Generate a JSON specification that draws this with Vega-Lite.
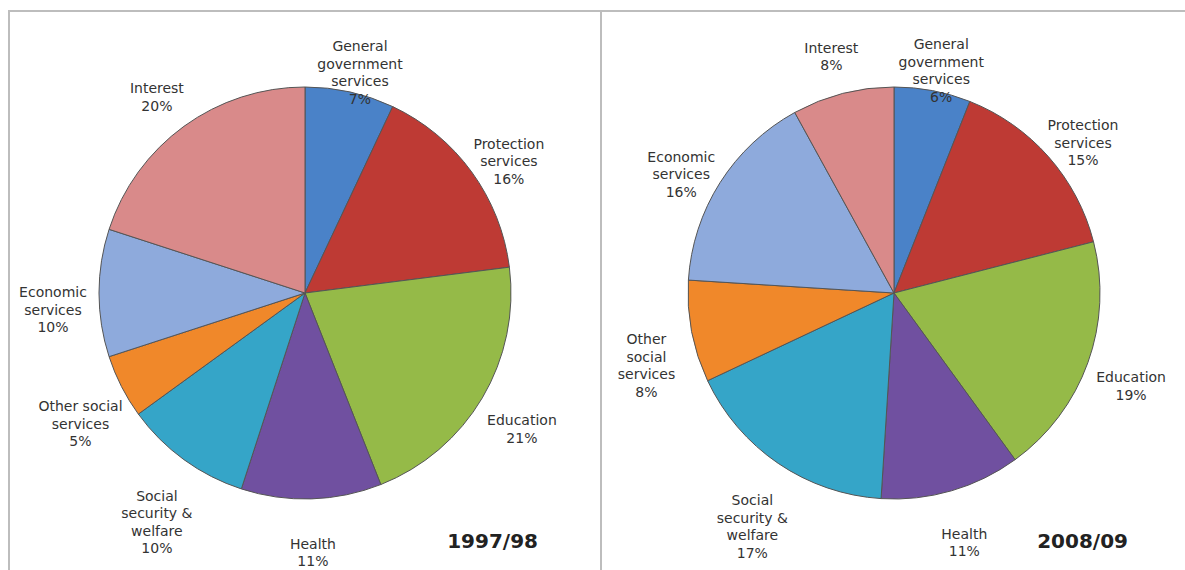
{
  "$schema": "https://vega.github.io/schema/vega-lite/v6.json",
  "padding": {"left": 8, "top": 10, "right": 0, "bottom": 0},
  "spacing": 0,
  "bounds": "flush",
  "background": "white",
  "config": {
    "view": {"stroke": "#bdbdbd", "strokeWidth": 2},
    "font": "DejaVu Sans",
    "concat": {"spacing": 0}
  },
  "datasets": {
    "y1997": [
      {"category": "General government services", "label": "General\ngovernment\nservices\n7%", "value": 7, "order": 1},
      {"category": "Protection services", "label": "Protection\nservices\n16%", "value": 16, "order": 2},
      {"category": "Education", "label": "Education\n21%", "value": 21, "order": 3},
      {"category": "Health", "label": "Health\n11%", "value": 11, "order": 4},
      {"category": "Social security & welfare", "label": "Social\nsecurity &\nwelfare\n10%", "value": 10, "order": 5},
      {"category": "Other social services", "label": "Other social\nservices\n5%", "value": 5, "order": 6},
      {"category": "Economic services", "label": "Economic\nservices\n10%", "value": 10, "order": 7},
      {"category": "Interest", "label": "Interest\n20%", "value": 20, "order": 8}
    ],
    "y2008": [
      {"category": "General government services", "label": "General\ngovernment\nservices\n6%", "value": 6, "order": 1},
      {"category": "Protection services", "label": "Protection\nservices\n15%", "value": 15, "order": 2},
      {"category": "Education", "label": "Education\n19%", "value": 19, "order": 3},
      {"category": "Health", "label": "Health\n11%", "value": 11, "order": 4},
      {"category": "Social security & welfare", "label": "Social\nsecurity &\nwelfare\n17%", "value": 17, "order": 5},
      {"category": "Other social services", "label": "Other\nsocial\nservices\n8%", "value": 8, "order": 6},
      {"category": "Economic services", "label": "Economic\nservices\n16%", "value": 16, "order": 7},
      {"category": "Interest", "label": "Interest\n8%", "value": 8, "order": 8}
    ]
  },
  "hconcat": [
    {
      "width": 592,
      "height": 564,
      "view": {"stroke": "#bdbdbd", "strokeWidth": 2},
      "data": {"name": "y1997"},
      "title": {"text": "1997/98", "orient": "bottom", "anchor": "end", "offset": -27, "dx": -63, "fontSize": 20, "fontWeight": "bold", "baseline": "alphabetic", "color": "#222222", "font": "DejaVu Sans"},
      "encoding": {
        "theta": {"field": "value", "type": "quantitative", "stack": true},
        "order": {"field": "order", "type": "quantitative"}
      },
      "layer": [
        {
          "mark": {"type": "arc", "outerRadius": 206, "stroke": "#555555", "strokeWidth": 1},
          "encoding": {
            "color": {
              "field": "category", "type": "nominal", "legend": null,
              "scale": {
                "domain": ["General government services", "Protection services", "Education", "Health", "Social security & welfare", "Other social services", "Economic services", "Interest"],
                "range": ["#4A82C8", "#BE3A34", "#95BA48", "#7050A0", "#35A5C8", "#F0882A", "#8EAADC", "#D98A8A"]
              }
            }
          }
        },
        {
          "mark": {"type": "text", "radius": 252, "fontSize": 14, "lineBreak": "\n", "lineHeight": 17.5, "fill": "#333333", "align": "center", "baseline": "middle"},
          "encoding": {
            "text": {"field": "label", "type": "nominal"},
            "detail": {"field": "category", "type": "nominal"}
          }
        }
      ]
    },
    {
      "width": 586,
      "height": 564,
      "view": {"stroke": "#bdbdbd", "strokeWidth": 2},
      "data": {"name": "y2008"},
      "title": {"text": "2008/09", "orient": "bottom", "anchor": "end", "offset": -27, "dx": -59, "fontSize": 20, "fontWeight": "bold", "baseline": "alphabetic", "color": "#222222", "font": "DejaVu Sans"},
      "encoding": {
        "theta": {"field": "value", "type": "quantitative", "stack": true},
        "order": {"field": "order", "type": "quantitative"}
      },
      "layer": [
        {
          "mark": {"type": "arc", "outerRadius": 206, "stroke": "#555555", "strokeWidth": 1},
          "encoding": {
            "color": {
              "field": "category", "type": "nominal", "legend": null,
              "scale": {
                "domain": ["General government services", "Protection services", "Education", "Health", "Social security & welfare", "Other social services", "Economic services", "Interest"],
                "range": ["#4A82C8", "#BE3A34", "#95BA48", "#7050A0", "#35A5C8", "#F0882A", "#8EAADC", "#D98A8A"]
              }
            }
          }
        },
        {
          "mark": {"type": "text", "radius": 252, "fontSize": 14, "lineBreak": "\n", "lineHeight": 17.5, "fill": "#333333", "align": "center", "baseline": "middle"},
          "encoding": {
            "text": {"field": "label", "type": "nominal"},
            "detail": {"field": "category", "type": "nominal"}
          }
        }
      ]
    }
  ]
}
